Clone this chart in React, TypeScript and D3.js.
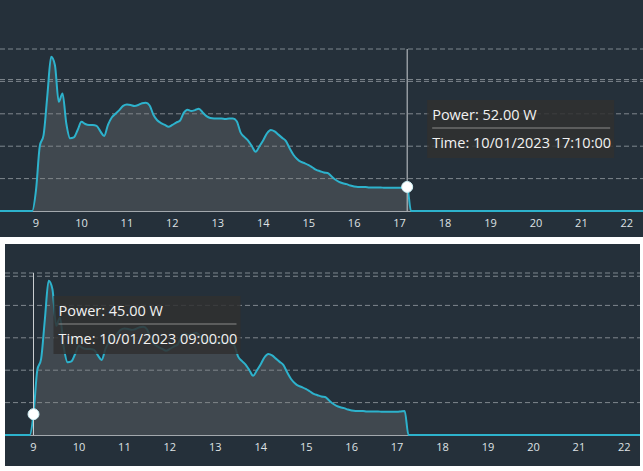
import React from "react";
import * as d3 from "d3";

// ---- data ----
const DAY = "2023-10-01";
const PAD_START = "08:00";
const PAD_END = "23:00";
const SERIES_START = "08:55"; // 5-minute samples from here
const POWER = [
  0, 45, 140, 164, 250, 333, 315, 236, 254, 189, 157, 159, 175,
  193, 188, 186, 186, 184, 172, 162, 186, 202, 210, 218, 227,
  230, 229, 227, 229, 233, 234, 228, 208, 196, 190, 186, 182,
  186, 191, 195, 212, 219, 216, 218, 221, 213, 205, 201, 200,
  200, 200, 199, 200, 200, 194, 170, 160, 152, 140, 128, 140,
  153, 168, 175, 172, 165, 158, 151, 135, 121, 112, 106, 103,
  99, 94, 89, 86, 83, 82, 75, 68, 63, 60, 58, 55,
  53, 52, 52, 52, 51, 51, 51, 51, 50, 50, 50, 50, 50, 51, 52,
  0,
];
const X_TICKS = [9, 10, 11, 12, 13, 14, 15, 16, 17, 18, 19, 20, 21, 22];
const Y_GRID = [70, 140, 210, 280, 350];
const Y_MAX = 350;

const parse = (hm: string) => new Date(`${DAY}T${hm}:00`);
const start = parse(SERIES_START);
const sampleTimes = d3.timeMinute.every(5)!.range(start, new Date(+start + POWER.length * 300000));
const DATA = [
  { t: parse(PAD_START), v: 0 },
  ...POWER.map((v, i) => ({ t: sampleTimes[i], v })),
  { t: parse(PAD_END), v: 0 },
];

const PANELS = [
  { id: "a", x: 0, y: 0, w: 643, h: 237, x9: 36, base: 211, hover: "17:10", tipY: 100, extra: 284 },
  { id: "b", x: 5, y: 244, w: 635, h: 222, x9: 33.5, base: 435, hover: "09:00", tipY: 296, extra: 343 },
];

const PX_PER_HOUR = 45.45;
const PLOT_H = 162;
const BG = "#25303a";
const LINE = "#2db2cc";
const FONT = "'Open Sans', 'Noto Sans', sans-serif";
const fmtTime = d3.timeFormat("%m/%d/%Y %H:%M:%S");

function Panel({ p }: { p: (typeof PANELS)[number] }) {
  const t9 = parse("09:00");
  const t22 = parse("22:00");
  const x = d3.scaleTime().domain([t9, t22]).range([p.x9, p.x9 + 13 * PX_PER_HOUR]);
  const y = d3.scaleLinear().domain([0, Y_MAX]).range([p.base, p.base - PLOT_H]);
  const line = d3.line<{ t: Date; v: number }>().x((d) => x(d.t)).y((d) => y(d.v)).curve(d3.curveMonotoneX);
  const area = d3
    .area<{ t: Date; v: number }>()
    .x((d) => x(d.t))
    .y0(y(0))
    .y1((d) => y(d.v))
    .curve(d3.curveMonotoneX);
  const hov = DATA.find((d) => +d.t === +parse(p.hover))!;
  const hx = x(hov.t);
  const hy = y(hov.v);
  const bx = hx + 20;
  const by = p.tipY;
  return (
    <g>
      <defs>
        <clipPath id={`clip-${p.id}`}>
          <rect x={p.x} y={p.y} width={p.w} height={p.h} />
        </clipPath>
      </defs>
      <g clipPath={`url(#clip-${p.id})`}>
        <rect x={p.x} y={p.y} width={p.w} height={p.h} fill={BG} />
        {Y_GRID.concat([p.extra]).map((g, i) => (
          <line
            key={i}
            x1={p.x}
            x2={p.x + p.w}
            y1={y(g)}
            y2={y(g)}
            stroke="#7f878e"
            strokeWidth={1}
            strokeDasharray="5 3"
          />
        ))}
        <path d={area(DATA)!} fill="rgba(128,128,128,0.3)" />
        <line x1={p.x} x2={p.x + p.w} y1={p.base + 0.5} y2={p.base + 0.5} stroke="#a3a8ad" strokeWidth={1} />
        <path d={line(DATA)!} fill="none" stroke={LINE} strokeWidth={2} />
        <line x1={hx} x2={hx} y1={y(Y_MAX)} y2={p.base} stroke="#c9cdd0" strokeWidth={1} />
        <circle cx={hx} cy={hy} r={5.5} fill="#ffffff" stroke="#cdeff5" strokeWidth={1} />
        {X_TICKS.map((h) => (
          <text
            key={h}
            x={x(d3.timeHour.offset(t9, h - 9))}
            y={p.base + 16}
            textAnchor="middle"
            fontSize={11}
            fontFamily={FONT}
            fill="#dfe2e5"
          >
            {h}
          </text>
        ))}
        <g>
          <rect x={bx} y={by} width={187} height={58} fill="rgba(48,48,48,0.85)" />
          <text x={bx + 5} y={by + 20} fontSize={14.5} fontFamily={FONT} fill="#f2f2f2">
            {`Power: ${hov.v.toFixed(2)} W`}
          </text>
          <line x1={bx + 5} x2={bx + 183} y1={by + 28} y2={by + 28} stroke="#8a8a8a" strokeWidth={1} />
          <text x={bx + 5} y={by + 48} fontSize={14.5} fontFamily={FONT} fill="#f2f2f2">
            {`Time: ${fmtTime(hov.t)}`}
          </text>
        </g>
      </g>
    </g>
  );
}

export default function App() {
  return (
    <svg
      width={643}
      height={471}
      style={{ position: "absolute", left: 0, top: 0, display: "block" }}
    >
      <rect x={0} y={0} width={643} height={471} fill="#ffffff" />
      {PANELS.map((p) => (
        <Panel key={p.id} p={p} />
      ))}
    </svg>
  );
}
